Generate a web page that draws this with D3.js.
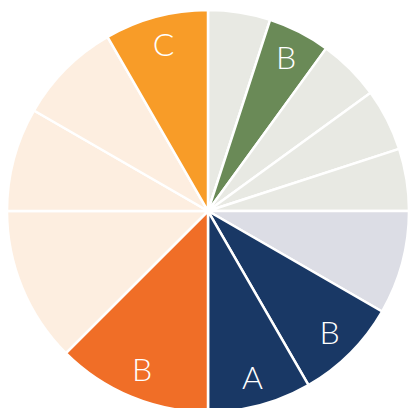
<!DOCTYPE html>
<html>
<head>
<meta charset="utf-8">
<script src="https://cdn.jsdelivr.net/npm/d3@7"></script>
<style>
  html, body { margin: 0; padding: 0; background: #fff; }
  svg { display: block; }
</style>
</head>
<body>
<div id="chart"></div>
<script>
// slices, clockwise from 12 o'clock
const sliceValues = [6, 6, 6, 6, 6, 10, 10, 10, 15, 15, 10, 10, 10];
const sliceLabels = ["", "B", "", "", "", "", "B", "A", "B", "", "", "", "C"];
const sliceColors = ["#e8e9e3", "#6a8a57", "#e8e9e3", "#e8e9e3", "#e8e9e3",
                     "#dcdde5", "#193865", "#193865", "#f06e27",
                     "#fdeee0", "#fdeee0", "#fdeee0", "#f89c28"];

const width = 409, height = 408;
const cx = 208, cy = 211, radius = 201;

const svg = d3.select("#chart").append("svg")
    .attr("width", width)
    .attr("height", height);

const g = svg.append("g")
    .attr("transform", `translate(${cx},${cy})`);

const pie = d3.pie().sort(null).value(d => d)(sliceValues);

const arc = d3.arc().innerRadius(0).outerRadius(radius);
const labelArc = d3.arc().innerRadius(172).outerRadius(172);

g.selectAll("path.slice")
    .data(pie)
    .enter()
    .append("path")
    .attr("class", "slice")
    .attr("d", arc)
    .attr("fill", (d, i) => sliceColors[i])
    .attr("stroke", "#fff")
    .attr("stroke-width", 2.5)
    .attr("stroke-linejoin", "round");

g.selectAll("text.lbl")
    .data(pie.filter((d, i) => sliceLabels[i] !== ""))
    .enter()
    .append("text")
    .attr("class", "lbl")
    .attr("transform", d => `translate(${labelArc.centroid(d)})`)
    .attr("text-anchor", "middle")
    .attr("dy", "0.36em")
    .attr("fill", "#fff")
    .style("font-family", "Lato, 'Open Sans', sans-serif")
    .style("font-weight", 300)
    .style("font-size", "32px")
    .text(d => sliceLabels[d.index]);
</script>
</body>
</html>
